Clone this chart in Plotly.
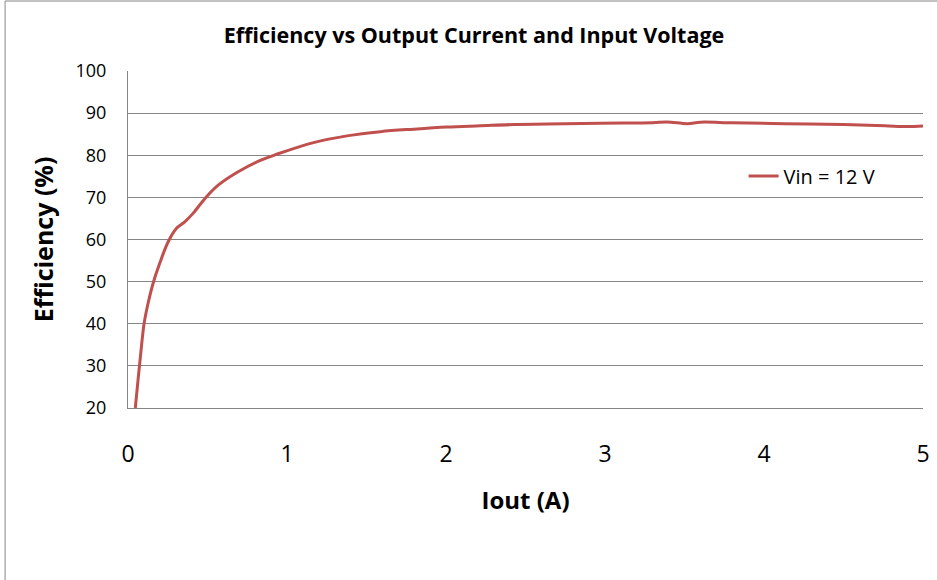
import plotly.graph_objects as go

iout = [0.046, 0.063, 0.080, 0.101, 0.126, 0.157, 0.199, 0.252, 0.304, 0.357, 0.409, 0.483, 0.567,
        0.693, 0.840, 0.940, 1.167, 1.377, 1.587, 1.797, 2.007, 2.217, 2.43, 2.64, 2.97, 3.3,
        3.39, 3.52, 3.60, 3.8, 4.13, 4.5, 4.76, 4.9, 5.0]
eff = [20, 26.6, 32.9, 40.0, 44.8, 49.5, 54.3, 59.4, 62.6, 64.2, 66.2, 69.7, 72.9,
       76.1, 78.9, 80.3, 83.0, 84.6, 85.6, 86.2, 86.7, 87.0, 87.3, 87.4, 87.6, 87.7,
       87.9, 87.5, 87.85, 87.7, 87.5, 87.3, 87.0, 86.8, 86.95]
series_name = "Vin = 12 V"
x_ticks = [0, 1, 2, 3, 4, 5]
y_ticks = [20, 30, 40, 50, 60, 70, 80, 90, 100]

FONT = "Open Sans, Arial, sans-serif"
W, H = 937, 580
L, R, T, B = 128, 7, 71, 172
pw, ph = W - L - R, H - T - B

fig = go.Figure()
fig.add_trace(go.Scatter(x=iout, y=eff, mode="lines", name=series_name,
                         line=dict(color="#C0504D", width=3, shape="spline", smoothing=1.0)))

fig.update_layout(
    width=W, height=H,
    margin=dict(l=L, r=R, t=T, b=B),
    paper_bgcolor="white", plot_bgcolor="white",
    font=dict(family=FONT, color="black"),
    title=dict(text="<b>Efficiency vs Output Current and Input Voltage</b>",
               x=(477 - L) / pw, xref="paper", xanchor="center",
               y=1 - 35 / H, yanchor="middle", font=dict(size=21.5, family=FONT)),
    showlegend=True,
    legend=dict(x=(749 - L) / pw, y=1 - (176 - T) / ph, xanchor="left", yanchor="middle",
                bgcolor="rgba(0,0,0,0)", font=dict(size=20, family=FONT),
                itemwidth=30, tracegroupgap=0),
    xaxis=dict(range=[0, 5], tickvals=x_ticks, showgrid=False, zeroline=False,
               showline=True, linecolor="#868686", linewidth=1,
               tickfont=dict(size=23, family=FONT), ticks="", ticklabelstandoff=25,
               title=dict(text="<b>Iout (A)</b>", font=dict(size=24, family=FONT), standoff=24)),
    yaxis=dict(range=[20, 100], tickvals=y_ticks, showgrid=True, gridcolor="#868686", gridwidth=1,
               zeroline=False, showline=True, linecolor="#868686", linewidth=1,
               tickfont=dict(size=18, family=FONT), ticks="", ticklabelstandoff=17,
               title=dict(text="<b>Efficiency (%)</b>", font=dict(size=25, family=FONT), standoff=14)),
)

# outer chart-area border (left and top edges visible)
bx = (4 - L) / pw
by = 1 + (T - 1) / ph
fig.add_shape(type="line", xref="paper", yref="paper", x0=bx, x1=bx, y0=by, y1=-(B + 10) / ph,
              line=dict(color="#868686", width=1))
fig.add_shape(type="line", xref="paper", yref="paper", x0=bx, x1=(W - L + 10) / pw, y0=by, y1=by,
              line=dict(color="#868686", width=1))

fig.write_html("out.html", config={"displayModeBar": False},
               post_script="document.body.style.margin='0';")
